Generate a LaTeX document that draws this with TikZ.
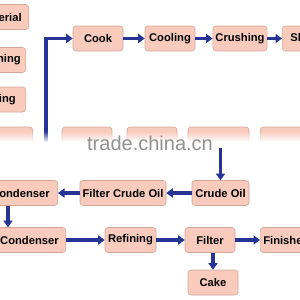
\documentclass[tikz,border=0pt]{standalone}
\usepackage{fontspec}
\setmainfont{Liberation Sans}
\usepackage{tikz}
\usetikzlibrary{positioning, arrows.meta}
\definecolor{boxfill}{RGB}{249,203,188}
\definecolor{boxline}{RGB}{212,166,154}
\definecolor{flowblue}{RGB}{38,52,150}
\definecolor{markgray}{RGB}{145,145,145}

\begin{document}
\begin{tikzpicture}[x=1pt, y=-1pt,
  box/.style={draw=boxline, fill=boxfill, rounded corners=3pt, line width=0.6pt,
    minimum height=25pt, inner xsep=2.5pt, font=\fontsize{11.2}{13}\selectfont\bfseries},
  flow/.style={draw=flowblue, line width=3.5pt, -{Triangle[length=6.5pt,width=9pt]}}]

\useasboundingbox (0,0) rectangle (300,300);
\clip (0,0) rectangle (300,300);

% Etapas iniciais (esquerda)
\node[box, anchor=east, inner xsep=7pt] (material) at (29,17) {Raw Material};
\node[box, anchor=east, inner xsep=5pt] (washing) at (26,60) {Washing};
\node[box, anchor=east, inner xsep=10pt] (drying) at (26,99.5) {Drying};

% Linha de cima
\node[box, minimum width=50pt] (cook) at (98,38.5) {Cook};
\node[box, minimum width=50pt] (cooling) at (170,38.5) {Cooling};
\node[box, minimum width=54pt] (crushing) at (240,38.5) {Crushing};
\node[box, anchor=west, inner xsep=8pt] (slicing) at (282,38.5) {Slicing};

% Linha apagada
\node[box, anchor=east, minimum width=60pt, minimum height=21pt] (row1) at (33,137.5) {};
\node[box, minimum width=50pt, minimum height=21pt] (row2) at (87,137.5) {};
\node[box, minimum width=50pt, minimum height=21pt] (row3) at (152,137.5) {};
\node[box, minimum width=61pt, minimum height=21pt] (row4) at (218.5,137.5) {};
\node[box, anchor=west, minimum width=60pt, minimum height=21pt] (row5) at (260,137.5) {};

\coordinate (feed) at (46,152);
\draw[flow] (feed) |- (cook.west);
\draw[flow] (cook) -- (cooling);
\draw[flow] (cooling) -- (crushing);
\draw[flow] (crushing) -- (slicing);

% Faixa branca
\foreach \i [evaluate=\i as \op using \i/11] in {0,...,11}
  \fill[white, opacity=\op] (0,131+\i) rectangle (300,132.3+\i);
\fill[white] (0,142) rectangle (300,153);

\node[text=markgray, font=\fontsize{20}{20}\selectfont, anchor=base] (mark) at (150,150) {trade.china.cn};

% Oleo
\node[box, minimum width=57pt] (crude) at (220.5,193) {Crude Oil};
\node[box, minimum width=86pt] (filtercrude) at (123,193) {Filter Crude Oil};
\node[box, anchor=east, inner xsep=8pt] (condenserA) at (58,193) {Condenser};

\draw[flow] (crude.north |- row4.south) -- (crude.north);
\draw[flow] (crude) -- (filtercrude);
\draw[flow] (filtercrude) -- (condenserA);

% Linha de baixo
\node[box, anchor=east, inner xsep=7pt] (condenserB) at (66,240) {Condenser};
\node[box, minimum width=51pt] (refining) at (130.5,240) {Refining};
\node[box, minimum width=50pt] (filter) at (210,240) {Filter};
\node[box, anchor=west, inner xsep=3pt] (finished) at (260,240) {Finished};
\node[box, minimum width=50pt] (cake) at (213,282.5) {Cake};

\coordinate (drop) at (8,0);
\draw[flow] (condenserA.south -| drop) -- (condenserB.north -| drop);
\draw[flow] (condenserB) -- (refining);
\draw[flow] (refining) -- (filter);
\draw[flow] (filter) -- (finished);
\draw[flow] (cake.north |- filter.south) -- (cake.north);

\end{tikzpicture}
\end{document}
